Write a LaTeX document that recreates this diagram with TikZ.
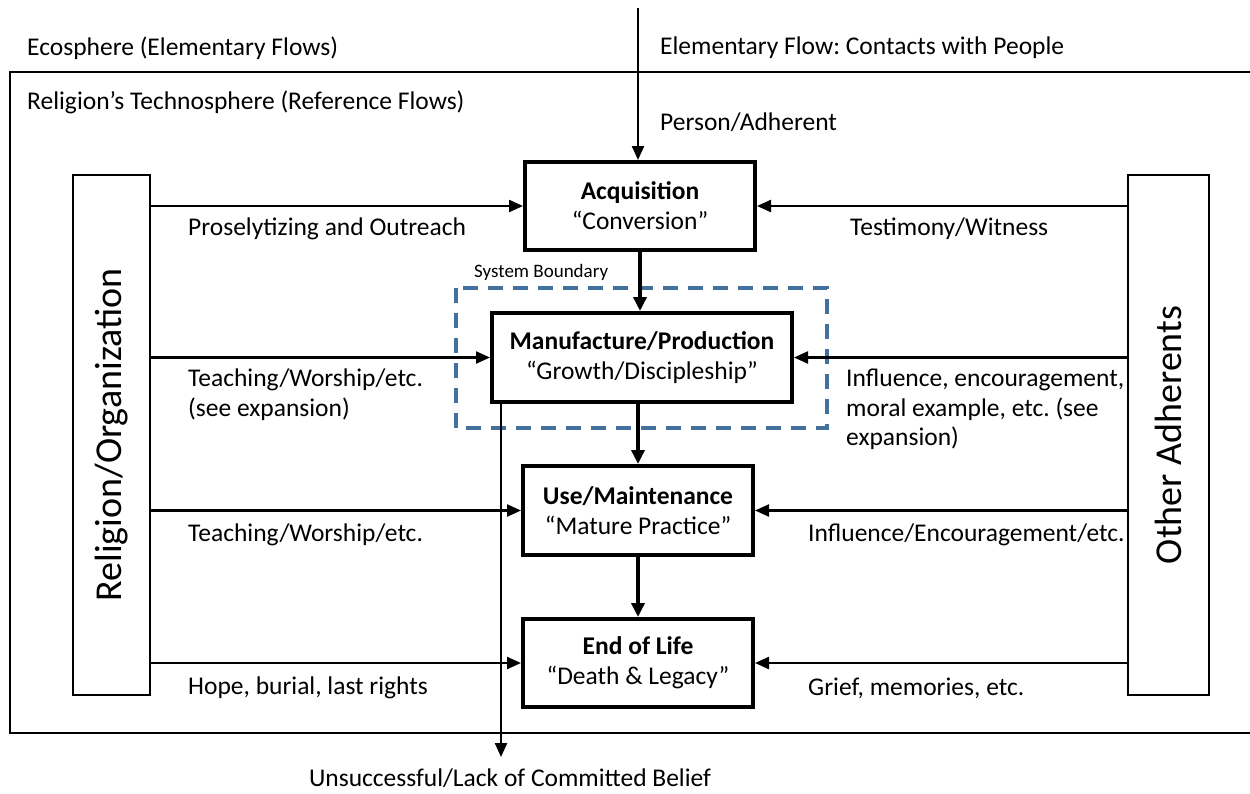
\documentclass[tikz,border=0pt]{standalone}
\usepackage{fontspec}
\setmainfont{Carlito}
\frenchspacing
\usetikzlibrary{arrows.meta}
\definecolor{bnd}{HTML}{41719C}
\tikzset{
  x=1pt,y=-1pt,
  lbl/.style={anchor=west,inner sep=0pt,font=\fontsize{25.5}{29.5}\selectfont,align=left},
  stage/.style={draw,line width=4pt,align=center,inner sep=0pt,font=\fontsize{25.5}{30}\selectfont},
  side/.style={draw,line width=1.6pt,inner sep=0pt,font=\fontsize{38}{42}\selectfont},
  arr/.style={line width=2.3pt,-{Triangle[length=14pt,width=12pt]}},
  thickarr/.style={line width=4.5pt,-{Triangle[length=14pt,width=13pt]}},
  frame/.style={line width=2.5pt}
}
\begin{document}
\begin{tikzpicture}
\useasboundingbox (0,0) rectangle (1250,793);
% technosphere frame
\draw[frame] (1250,72) -- (10,72) -- (10,733) -- (1250,733);
% texts
\node[lbl] (eco) at (27,48) {Ecosphere (Elementary Flows)};
\node[lbl] (ef) at (660,48) {Elementary Flow: Contacts with People};
\node[lbl] (tech) at (27,102) {Religion’s Technosphere (Reference Flows)};
\node[lbl] (pa) at (660,122) {Person/Adherent};
% system boundary
\draw[bnd,line width=3.5pt,dash pattern=on 15pt off 10pt] (456,288) rectangle (827,428);
\node[anchor=west,inner sep=0pt,font=\fontsize{19}{22}\selectfont] (sb) at (474,272) {System Boundary};
% stages
\node[stage,minimum width=230,minimum height=88] (acq) at (640,206) {\textbf{Acquisition}\\“Conversion”};
\node[stage,minimum width=300,minimum height=89] (man) at (642,357.5) {\textbf{Manufacture/Production}\\“Growth/Discipleship”};
\node[stage,minimum width=230,minimum height=89] (use) at (638,510.5) {\textbf{Use/Maintenance}\\“Mature Practice”};
\node[stage,minimum width=230,minimum height=88] (eol) at (638,663) {\textbf{End of Life}\\“Death \& Legacy”};
% side boxes
\node[side,minimum width=77,minimum height=520] (rel) at (111.5,435) {\rotatebox{90}{Religion/Organization}};
\node[side,minimum width=81,minimum height=520] (oth) at (1168.5,435) {\rotatebox{90}{Other Adherents}};
% top inflow
\coordinate (top) at (638,8);
\draw[arr] (top) -- (top |- acq.north);
% main flow
\draw[thickarr] (acq.south) -- (man.north -| acq.south);
\draw[thickarr] (man.south -| use.north) -- (use.north);
\draw[thickarr] (use.south) -- (eol.north);
% unsuccessful
\coordinate (uns) at (501,757);
\draw[arr] (uns |- man.south) -- (uns);
\node[inner sep=0pt,font=\fontsize{25.5}{29}\selectfont] (unst) at (510,778) {Unsuccessful/Lack of Committed Belief};
% left connectors
\draw[arr] (rel.east |- acq.west) -- (acq.west);
\draw[arr] (rel.east |- man.west) -- (man.west);
\draw[arr] (rel.east |- use.west) -- (use.west);
\draw[arr] (rel.east |- eol.west) -- (eol.west);
% right connectors
\draw[arr] (oth.west |- acq.east) -- (acq.east);
\draw[arr] (oth.west |- man.east) -- (man.east);
\draw[arr] (oth.west |- use.east) -- (use.east);
\draw[arr] (oth.west |- eol.east) -- (eol.east);
% labels
\node[lbl] (l1) at (188,229) {Proselytizing and Outreach};
\node[lbl,anchor=north west] (l2) at (188,369) {Teaching/Worship/etc.\\(see expansion)};
\node[lbl] (l3) at (188,535) {Teaching/Worship/etc.};
\node[lbl] (l4) at (188,688) {Hope, burial, last rights};
\node[lbl] (r1) at (850,229) {Testimony/Witness};
\node[lbl,anchor=north west] (r2) at (846,369) {Influence, encouragement,\\moral example, etc. (see\\expansion)};
\node[lbl] (r3) at (808,535) {Influence/Encouragement/etc.};
\node[lbl] (r4) at (808,688) {Grief, memories, etc.};
\end{tikzpicture}
\end{document}
